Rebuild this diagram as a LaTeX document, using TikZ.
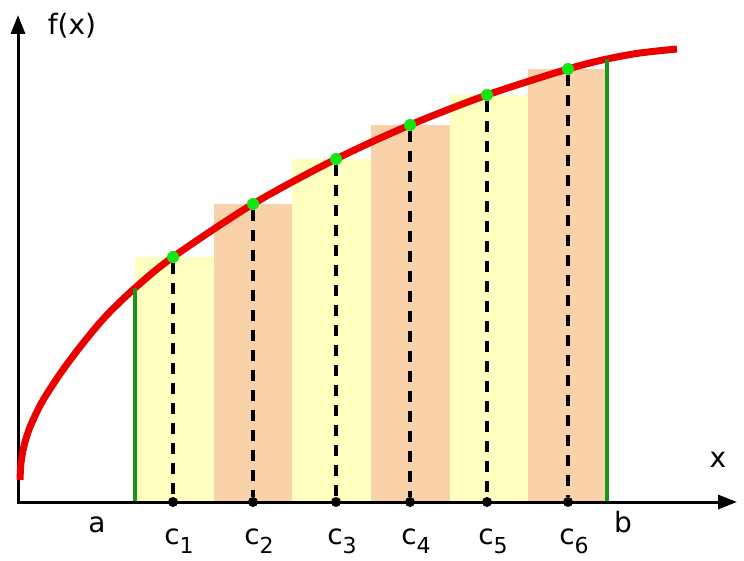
\documentclass[tikz,border=0pt]{standalone}
\usepackage{fontspec}
\setmainfont{DejaVu Sans}
\usetikzlibrary{arrows.meta}
\definecolor{stripyellow}{RGB}{255,255,192}
\definecolor{strippeach}{RGB}{250,210,170}
\definecolor{curvered}{RGB}{235,0,0}
\definecolor{edgegreen}{RGB}{25,150,25}
\definecolor{dotgreen}{RGB}{20,230,20}
\newcommand{\csub}[1]{c\raisebox{-0.33em}{\fontsize{22}{22}\selectfont #1}}
\tikzset{
    axis/.style={line width=3pt, {Triangle[length=19pt,width=14pt]}-{Triangle[length=19pt,width=14pt]}},
    edge/.style={edgegreen, line width=3.5pt},
    dashline/.style={line width=3.2pt, dash pattern=on 11pt off 9pt},
    gdot/.style={circle, fill=dotgreen, inner sep=0pt, minimum size=12pt},
    bdot/.style={circle, fill=black, inner sep=0pt, minimum size=10pt},
    lbl/.style={font=\fontsize{28}{32}\selectfont, inner sep=0pt, anchor=base}
}
\begin{document}
\begin{tikzpicture}[x=1pt,y=1pt]
    \useasboundingbox (0,0) rectangle (744,560);
    % Strips
    \foreach \i/\h/\col in {0/303/stripyellow, 1/356/strippeach, 2/401/stripyellow,
                            3/435/strippeach, 4/465/stripyellow, 5/491/strippeach}
        \fill[\col] (135+78.67*\i,58) rectangle ++(78.67,\h-58);
    % Axes
    \coordinate (O) at (18,58);
    \coordinate (ytip) at (18,545);
    \coordinate (xtip) at (737,58);
    \draw[axis] (ytip) -- (O) -- (xtip);
    % Curve
    \draw[curvered, line width=7pt] plot[smooth] coordinates {
        (20,80) (21,97) (24,114) (30,133) (42,158) (60,186) (80,213) (105,243)
        (135,272) (173,303) (253,356) (336,401) (410,435) (487,465) (568,491)
        (607,501) (640,507) (677,511)};
    % Limits a and b
    \coordinate (abot) at (135,59);
    \coordinate (atop) at (135,272);
    \coordinate (bbot) at (607,59);
    \coordinate (btop) at (607,501);
    \draw[edge] (abot) -- (atop);
    \draw[edge] (bbot) -- (btop);
    % Sample points
    \foreach \i/\cx/\cy in {1/173/303, 2/253/356, 3/336/401, 4/410/435, 5/487/465, 6/568/491} {
        \node[bdot] (q\i) at (\cx,58) {};
        \node[gdot] (p\i) at (\cx,\cy) {};
        \draw[dashline] (p\i) -- (q\i);
        \node[lbl] (c\i) at (\cx+6,16) {\csub{\i}};
    }
    % Labels
    \node[lbl] (la) at (97,28) {a};
    \node[lbl] (lb) at (623,28) {b};
    \node[lbl] (lx) at (718,93) {x};
    \node[lbl] (lf) at (72,525) {f(x)};
\end{tikzpicture}
\end{document}
